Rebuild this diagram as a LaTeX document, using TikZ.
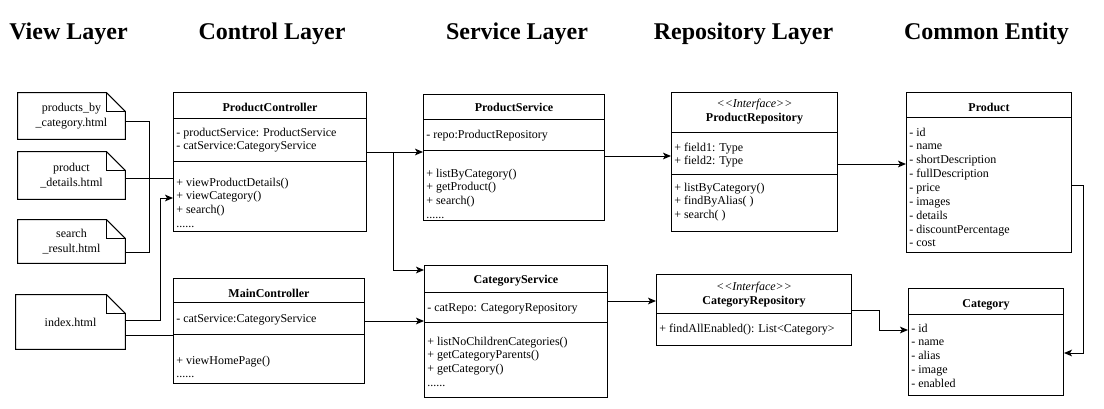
\documentclass[tikz,border=0pt]{standalone}
\usepackage{fontspec}
\setmainfont{Liberation Serif}[Ligatures=TeXOff]
\usetikzlibrary{arrows.meta,positioning,calc}

% class box: name, top left, width, height, separator offsets (px)
\newcommand\umlclass[5]{%
  \node[clsbox,minimum width={#3*0.75pt},minimum height={#4*0.75pt}] (#1) at #2 {};
  \foreach \s in {#5}
    \draw[clsline] ([yshift={-\s*0.75pt}]#1.north west) -- ([yshift={-\s*0.75pt}]#1.north east);
}
% member lines, baseline on the first line
\newcommand\memlist[1]{\begin{tabular}[t]{@{}l@{}}#1\end{tabular}}

\begin{document}
\begin{tikzpicture}[x=0.75pt,y=-0.75pt,
  layer/.style={anchor=base,inner sep=0pt,font=\fontsize{18}{20}\selectfont\bfseries},
  clsbox/.style={draw,line width=0.75pt,anchor=north west,inner sep=0pt},
  clsline/.style={line width=0.75pt},
  cname/.style={anchor=base,inner sep=0pt,align=center,font=\fontsize{9}{10.5}\selectfont\bfseries},
  mem/.style={anchor=base west,inner sep=0pt,font=\fontsize{9}{10.4}\selectfont},
  doc/.style={align=center,inner sep=0pt,font=\fontsize{9}{10.8}\selectfont},
  link/.style={line width=0.75pt},
  arr/.style={link,-{Stealth[length=6pt,width=5pt,inset=1.5pt]}}
]
\useasboundingbox (0,0) rectangle (1104,408);

% layer titles
\node[layer] (tv) at (68.5,39) {View Layer};
\node[layer] (tc) at (272,39) {Control Layer};
\node[layer] (ts) at (517,39) {Service Layer};
\node[layer] (tr) at (743.5,39) {Repository Layer};
\node[layer] (te) at (986.5,39) {Common Entity};

% view pages
\node[doc,minimum width={107*0.75pt},minimum height={46*0.75pt}] (pbc) at (71.5,116) {products\_by\\\_category.html};
\node[doc,minimum width={107*0.75pt},minimum height={47*0.75pt}] (pd) at (71.5,175.5) {product\\\_details.html};
\node[doc,minimum width={107*0.75pt},minimum height={43*0.75pt}] (sr) at (71.5,241.5) {search\\\_result.html};
\node[doc,minimum width={109*0.75pt},minimum height={54*0.75pt}] (idx) at (70.5,322) {index.html};
\foreach \d in {pbc,pd,sr,idx}{
  \draw[link] (\d.south west) -- (\d.north west) -- ([xshift=-14pt]\d.north east)
    -- ([yshift=-14pt]\d.north east) -- (\d.south east) -- cycle;
  \draw[link] ([xshift=-14pt]\d.north east) -- ([xshift=-14pt,yshift=-14pt]\d.north east)
    -- ([yshift=-14pt]\d.north east);
}

% controllers
\umlclass{pc}{(173,92)}{193}{139}{26,69}
\node[cname] (pc-n) at ([shift={(0,19)}]pc.north) {ProductController};
\node[mem] (pc-a) at ([shift={(3,44)}]pc.north west) {\memlist{- productService: ProductService\\- catService:CategoryService}};
\node[mem] (pc-m) at ([shift={(3,94)}]pc.north west) {\memlist{+ viewProductDetails()\\+ viewCategory()\\+ search()\\......}};

\umlclass{mc}{(173,278)}{191}{105}{24,56}
\node[cname] (mc-n) at ([shift={(0,19)}]mc.north) {MainController};
\node[mem] (mc-a) at ([shift={(3,44)}]mc.north west) {- catService:CategoryService};
\node[mem] (mc-m) at ([shift={(3,86)}]mc.north west) {\memlist{+ viewHomePage()\\......}};

% services
\umlclass{ps}{(423,94)}{181}{126}{25,56}
\node[cname] (ps-n) at ([shift={(0,17)}]ps.north) {ProductService};
\node[mem] (ps-a) at ([shift={(3,44)}]ps.north west) {- repo:ProductRepository};
\node[mem] (ps-m) at ([shift={(3,83)}]ps.north west) {\memlist{+ listByCategory()\\+ getProduct()\\+ search()\\......}};

\umlclass{cs}{(424,265)}{183}{132}{27,57}
\node[cname] (cs-n) at ([shift={(0,18)}]cs.north) {CategoryService};
\node[mem] (cs-a) at ([shift={(3,46)}]cs.north west) {- catRepo: CategoryRepository};
\node[mem] (cs-m) at ([shift={(3,80)}]cs.north west) {\memlist{+ listNoChildrenCategories()\\+ getCategoryParents()\\+ getCategory()\\......}};

% repositories
\umlclass{pr}{(671,92)}{166}{139}{40,82}
\node[cname] (pr-n) at ([shift={(0,29)}]pr.north) {\textmd{\textit{<<Interface>>}}\\ProductRepository};
\node[mem] (pr-a) at ([shift={(3,59)}]pr.north west) {\memlist{+ field1: Type\\+ field2: Type}};
\node[mem] (pr-m) at ([shift={(3,99)}]pr.north west) {\memlist{+ listByCategory()\\+ findByAlias( )\\+ search( )}};

\umlclass{cr}{(656,274)}{195}{71}{39}
\node[cname] (cr-n) at ([shift={(0,30)}]cr.north) {\textmd{\textit{<<Interface>>}}\\CategoryRepository};
\node[mem] (cr-m) at ([shift={(3,58)}]cr.north west) {+ findAllEnabled(): List<Category>};

% entities
\umlclass{prod}{(906,92)}{165}{160}{25}
\node[cname] (prod-n) at ([shift={(0,19)}]prod.north) {Product};
\node[mem] (prod-a) at ([shift={(3,44)}]prod.north west) {\memlist{- id\\- name\\- shortDescription\\- fullDescription\\- price\\- images\\- details\\- discountPercentage\\- cost}};

\umlclass{cat}{(908,288)}{155}{107}{26}
\node[cname] (cat-n) at ([shift={(0,19)}]cat.north) {Category};
\node[mem] (cat-a) at ([shift={(3,44)}]cat.north west) {\memlist{- id\\- name\\- alias\\- image\\- enabled}};

% connectors
\coordinate (j1) at (149,178);
\coordinate (j2) at (160,198);
\coordinate (i2) at ([yshift=-9.75pt]idx.east);
\draw[link] ([yshift=-3.75pt]pbc.east) -| (j1);
\draw[link] ([yshift=-7.9pt]sr.east) -| (j1);
\draw[link] (pd.east |- j1) -- (pc.west |- j1);
\draw[arr] ([yshift=1.5pt]idx.east) -| (j2) -- (pc.west |- j2);
\draw[link] (i2) -- (mc.west |- i2);

\coordinate (j3) at (393,152);
\coordinate (j4) at (393,270);
\draw[arr] (pc.east |- j3) -- (ps.west |- j3);
\draw[arr] (pc.east |- j3) -- (j3) -- (j4) -- (cs.west |- j4);
\coordinate (m1) at (395,321);
\draw[arr] (mc.east |- m1) -- (cs.west |- m1);

\coordinate (m2) at (640,156);
\coordinate (m3) at (870,164);
\coordinate (m4) at (630,301);
\draw[arr] (ps.east |- m2) -- (pr.west |- m2);
\draw[arr] (pr.east |- m3) -- (prod.west |- m3);
\draw[arr] (cs.east |- m4) -- (cr.west |- m4);

\coordinate (j5) at (879,310);
\coordinate (j6) at (879,330);
\draw[arr] (cr.east |- j5) -- (j5) -- (j6) -- (cat.west |- j6);
\coordinate (j7) at (1083,185);
\coordinate (j8) at (1083,353);
\draw[arr] (prod.east |- j7) -- (j7) -- (j8) -- (cat.east |- j8);
\end{tikzpicture}
\end{document}
